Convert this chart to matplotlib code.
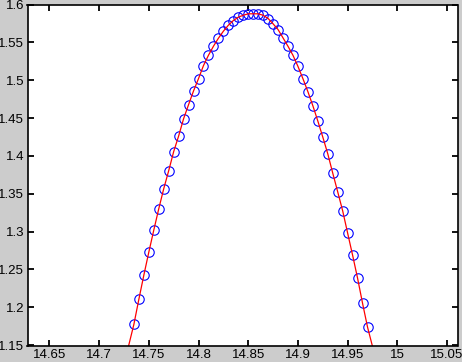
import matplotlib
matplotlib.use("Agg")
import matplotlib.pyplot as plt
import numpy as np

# Sample points (blue circles)
x_pts = [14.735 + 0.005 * i for i in range(48)]
y_pts = [1.1774, 1.2105, 1.2423, 1.2727, 1.3018, 1.3300, 1.3565, 1.3803,
         1.4055, 1.4262, 1.4491, 1.4677, 1.4858, 1.5021, 1.5193, 1.5329,
         1.5448, 1.5554, 1.5647, 1.5726, 1.5788, 1.5832, 1.5858, 1.5877,
         1.5877, 1.5877, 1.5858, 1.5815, 1.5745, 1.5669, 1.5559, 1.5448,
         1.5329, 1.5183, 1.5021, 1.4849, 1.4663, 1.4461, 1.4249, 1.4028,
         1.3773, 1.3525, 1.3274, 1.2979, 1.2687, 1.2383, 1.2052, 1.1738]

# Fitted curve (red line), extends slightly past the points
x_line = [14.728] + x_pts + [14.977]
y_line = [1.140] + y_pts + [1.138]

x_ticks = [14.65, 14.7, 14.75, 14.8, 14.85, 14.9, 14.95, 15.0, 15.05]
x_ticklabels = ["14.65", "14.7", "14.75", "14.8", "14.85", "14.9", "14.95", "15", "15.05"]
y_ticks = [1.15, 1.2, 1.25, 1.3, 1.35, 1.4, 1.45, 1.5, 1.55, 1.6]
y_ticklabels = ["1.15", "1.2", "1.25", "1.3", "1.35", "1.4", "1.45", "1.5", "1.55", "1.6"]

plt.rcParams['font.family'] = ['Liberation Sans', 'DejaVu Sans']

fig = plt.figure(figsize=(4.62, 3.62), dpi=100, facecolor='#cccccc')
ax = fig.add_axes([27.5 / 462, 1 - 346 / 362, (457.5 - 27.5) / 462, (346 - 4.5) / 362])
ax.set_facecolor('white')

ax.plot(x_pts, y_pts, linestyle='none', marker='o', markersize=6.8,
        markerfacecolor='none', markeredgecolor='#0000ff', markeredgewidth=0.8)
ax.plot(x_line, y_line, color='#ff0000', linewidth=0.9)

ax.set_xlim(14.628, 15.0605)
ax.set_ylim(1.1488, 1.6)
ax.set_xticks(x_ticks)
ax.set_xticklabels(x_ticklabels)
ax.set_yticks(y_ticks)
ax.set_yticklabels(y_ticklabels)

ax.tick_params(direction='in', length=4.5, width=1.3, top=True, right=True,
               labelsize=9.5, pad=2.5, colors='black')
for s in ax.spines.values():
    s.set_linewidth(1.2)
    s.set_color('black')

fig.savefig('out.png', dpi=100, facecolor=fig.get_facecolor())
